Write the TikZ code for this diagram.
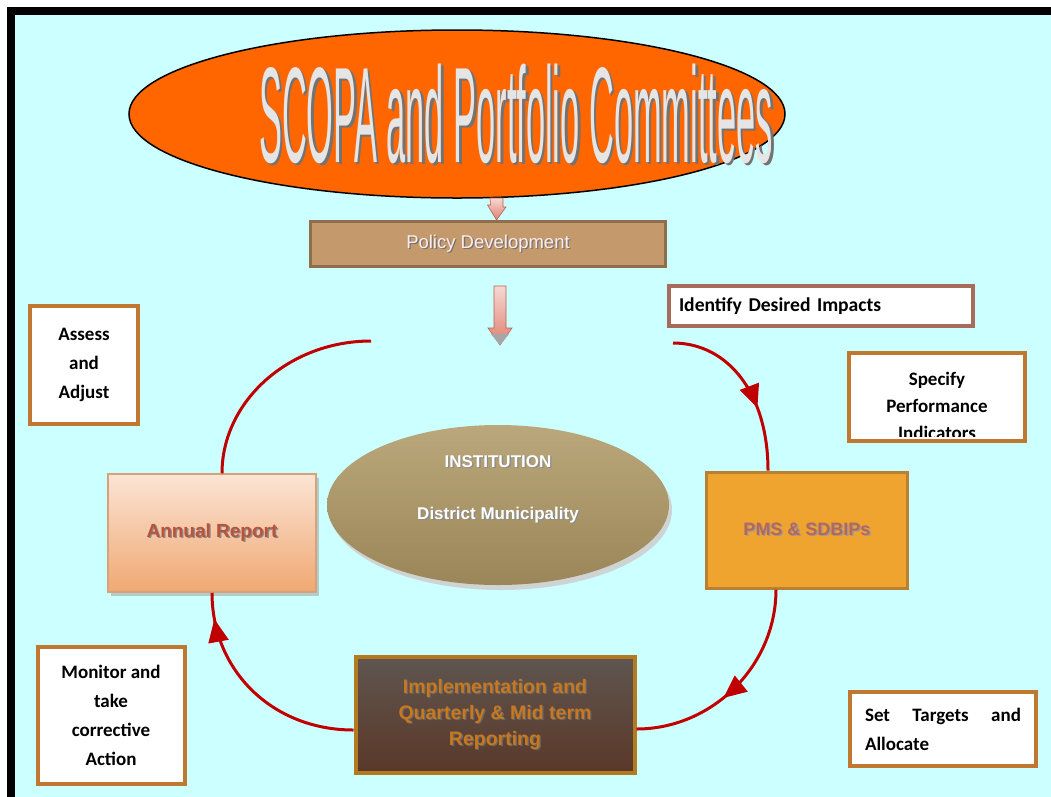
\documentclass[tikz,border=0pt]{standalone}
\usepackage{fontspec}
\setmainfont{Liberation Sans}
\newfontfamily\calibrifont{Carlito}
\usetikzlibrary{arrows.meta,positioning,calc,shapes.geometric,decorations.markings,shadows}

\definecolor{cyanbg}{HTML}{CCFFFF}
\definecolor{scopaorange}{HTML}{FF6600}
\definecolor{noteedge}{HTML}{C07830}
\definecolor{idiedge}{HTML}{A86A5A}
\definecolor{arcred}{HTML}{C00000}
\definecolor{policyfill}{HTML}{C49A6C}
\definecolor{policyedge}{HTML}{8F6E50}
\definecolor{pmsfill}{HTML}{F0A430}
\definecolor{pmsedge}{HTML}{B88030}
\definecolor{pmstxt}{HTML}{B86656}
\definecolor{annualtxt}{HTML}{B8533C}
\definecolor{annualtop}{HTML}{FBE4D5}
\definecolor{annualbot}{HTML}{F0A872}
\definecolor{annualedge}{HTML}{D6A27A}
\definecolor{impledge}{HTML}{B47A20}
\definecolor{impltxt}{HTML}{C8781E}
\definecolor{impltop}{HTML}{5F5550}
\definecolor{implbot}{HTML}{5A3828}
\definecolor{insttop}{HTML}{BAA77B}
\definecolor{instbot}{HTML}{9A8658}
\definecolor{instshadow}{HTML}{D0A8A8}
\definecolor{arrowtop}{HTML}{F6D8D4}
\definecolor{arrowbot}{HTML}{DE806E}
\definecolor{arrowedge}{HTML}{B86050}

% text with a soft drop shadow
\newcommand{\embossed}[4][1.3pt]{\makebox[0pt][l]{\hspace{#1}\raisebox{-#1}{\color{#3}#4}}{\color{#2}#4}}

\tikzset{
  note/.style={draw=noteedge, line width=4pt, fill=white, inner sep=0pt,
    font=\calibrifont\bfseries\fontsize{19}{29}\selectfont, align=center},
  cyclearc/.style={draw=arcred, line width=3pt},
  arctip/.style={decoration={markings,
    mark=at position #1 with {\arrow{Triangle[length=23pt,width=20pt]}}},
    postaction={decorate}},
  bigarrow/.style={top color=arrowtop, bottom color=arrowbot, draw=arrowedge, line width=0.6pt},
}

\begin{document}
\begin{tikzpicture}[x=1pt, y=-1pt]
  \useasboundingbox (0,0) rectangle (1051,796);
  \clip (0,0) rectangle (1051,796);
  % frame
  \fill[white] (0,0) rectangle (1051,796);
  \fill[black] (7,7) rectangle (1060,810);
  \fill[cyanbg] (15,15) rectangle (1060,810);

  % committees
  \node[ellipse, draw=black, line width=1.5pt, fill=scopaorange,
        minimum width=656pt, minimum height=168pt] (scopa) at (457,114) {};
  \node[anchor=base, font=\fontsize{40}{40}\selectfont] (scopatext) at (516,162)
        {\embossed[2.5pt]{black!10}{black!55}{\scalebox{0.86}[3.4]{SCOPA and Portfolio Committees}}};

  % policy
  \node[draw=policyedge, fill=policyfill, line width=3pt, minimum width=355pt,
        minimum height=45pt, font=\fontsize{18.5}{20}\selectfont] (policy) at (488,244)
        {\embossed{white!92!red}{black!55}{Policy Development}};
  \coordinate (topin) at (496.5,198);
  \shade[bigarrow] (topin) ++(-6.5,0) -- ++(13,0) -- ++(0,9) -- ++(3,0)
        -- (policy.north -| topin) -- ++(-9,-15) -- ++(3,0) -- cycle;
  \coordinate (policyout) at (500,286);
  \shade[bigarrow] (policyout) ++(-6,0) -- ++(12,0) -- ++(0,42) -- ++(6,0)
        -- ++(-12,17) -- ++(-12,-17) -- ++(6,0) -- cycle;
  \fill[gray!70] (491,334) -- (509,334) -- (500,345) -- cycle;
  \coordinate (cycletop) at (371,341);
  \coordinate (cycleright) at (673,343);

  % institution
  \node[ellipse, top color=insttop, bottom color=instbot,
        minimum width=342pt, minimum height=160pt,
        drop shadow={shadow xshift=3pt, shadow yshift=-5pt, fill=instshadow}]
        (inst) at (498,505) {};
  \node[font=\bfseries\fontsize{17}{20}\selectfont, align=center] (insttext) at (498,490)
        {\embossed{white}{black!45}{INSTITUTION}\\[32pt]\embossed{white}{black!45}{District Municipality}};

  % cycle boxes
  \node[top color=annualtop, bottom color=annualbot, draw=annualedge,
        line width=1.5pt, minimum width=208pt, minimum height=118pt,
        drop shadow={shadow xshift=3pt, shadow yshift=-4pt, fill=black!40},
        font=\bfseries\fontsize{19}{22}\selectfont] (annual) at (212,533)
        {\embossed{annualtxt}{black!45}{Annual Report}};
  \node[fill=pmsfill, draw=pmsedge, line width=3pt, minimum width=201pt, minimum height=116pt,
        font=\bfseries\fontsize{18}{22}\selectfont] (pms) at (807,530)
        {\embossed{pmstxt}{black!40}{PMS \& SDBIPs}};
  \node[top color=impltop, bottom color=implbot, draw=impledge, line width=4pt,
        minimum width=279pt, minimum height=116pt, align=center,
        font=\bfseries\fontsize{19.5}{26}\selectfont] (impl) at (495,715)
        {\embossed{impltxt}{black!60}{Implementation and}\\
         \embossed{impltxt}{black!60}{Quarterly \& Mid term}\\
         \embossed{impltxt}{black!60}{Reporting}};

  % cycle arcs
  \draw[cyclearc] ([xshift=10pt]annual.north) .. controls +(0,-72) and +(-82,0) .. (cycletop);
  \draw[cyclearc, arctip=0.64] (cycleright) .. controls +(55,0) and +(0,-77) .. ([xshift=-39pt]pms.north);
  \draw[cyclearc, arctip=0.57] ([xshift=-31pt]pms.south) .. controls +(0,77) and +(75,0) .. ([yshift=-14pt]impl.east);
  \draw[cyclearc, arctip=0.88] ([yshift=-15pt]impl.west) .. controls +(-81,0) and +(0,78) .. (annual.south);

  % notes
  \node[note, minimum width=108pt, minimum height=118pt] (assess) at (84,365)
        {Assess\\and\\Adjust};
  \node[note, draw=idiedge, minimum width=304pt, minimum height=40pt, align=left,
        text width=284pt, font=\calibrifont\bfseries\fontsize{19.6}{29}\selectfont]
        (idi) at (821,306) {Identify Desired Impacts};
  \node[note, minimum width=176pt, minimum height=88pt] (spec) at (937,397) {};
  \begin{scope}
    \clip ([shift={(2pt,-2pt)}]spec.north west) rectangle ([shift={(-2pt,7pt)}]spec.south east);
    \node[font=\calibrifont\bfseries\fontsize{19}{27}\selectfont, align=center] (spectext)
          at (937,406) {Specify\\Performance\\Indicators};
  \end{scope}
  \node[note, minimum width=186pt, minimum height=74pt, align=left] (targets) at (943,729)
        {\makebox[156pt][s]{Set Targets and}\\Allocate};
  \node[note, minimum width=147pt, minimum height=137pt] (monitor) at (111,715)
        {Monitor and\\take\\corrective\\Action};
\end{tikzpicture}
\end{document}
